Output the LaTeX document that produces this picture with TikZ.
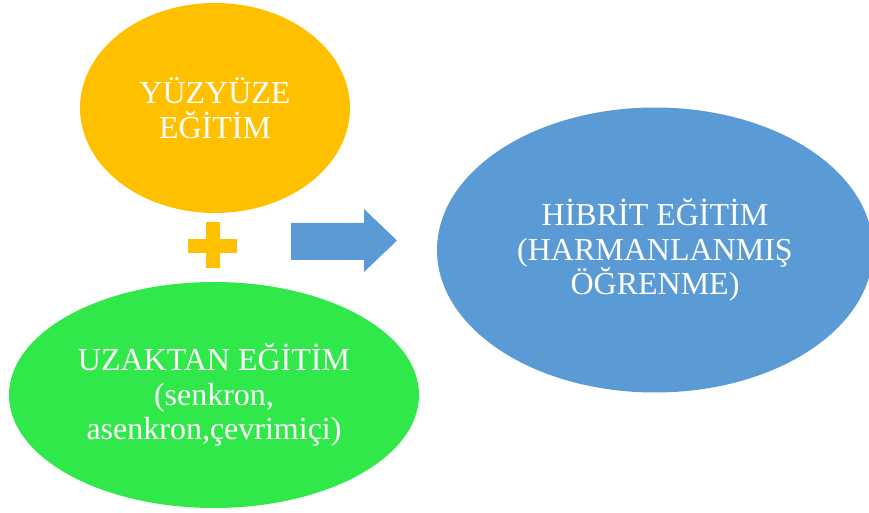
\documentclass[tikz,border=0pt]{standalone}
\usepackage{fontspec}
\setmainfont{Liberation Serif}
\usepackage{tikz}
\usetikzlibrary{shapes, shapes.geometric, positioning}
\definecolor{YuzOrange}{RGB}{255, 192, 0}
\definecolor{UzakGreen}{RGB}{48, 232, 74}
\definecolor{HibritBlue}{RGB}{91, 155, 213}

\begin{document}
\begin{tikzpicture}[x=0.5pt, y=-0.5pt,
		blob/.style={ellipse, inner sep=0pt, align=center, text=white,
			font=\fontsize{16}{17.3}\selectfont}]
	\useasboundingbox (0,0) rectangle (869,513);

	% Yuz yuze
	\node[blob, fill=YuzOrange, minimum width=135pt, minimum height=105pt] (yuz) at (215,108) {YÜZYÜZE\\EĞİTİM};

	% Uzaktan
	\node[blob, fill=UzakGreen, minimum width=205pt, minimum height=113pt] (uzak) at (214,395) {UZAKTAN EĞİTİM\\(senkron,\\asenkron,çevrimiçi)};

	% Hibrit
	\node[blob, fill=HibritBlue, minimum width=218pt, minimum height=142.5pt] (hibrit) at (655,250) {HİBRİT EĞİTİM\\(HARMANLANMIŞ\\ÖĞRENME)};

	% arti isareti
	\fill[YuzOrange] (206,222) rectangle (220,268);
	\fill[YuzOrange] (188,239) rectangle (237,253);

	% ok
	\fill[HibritBlue] (291,223) -- (364,223) -- (364,209) -- (397,240.5)
		-- (364,272) -- (364,260) -- (291,260) -- cycle;
\end{tikzpicture}
\end{document}
